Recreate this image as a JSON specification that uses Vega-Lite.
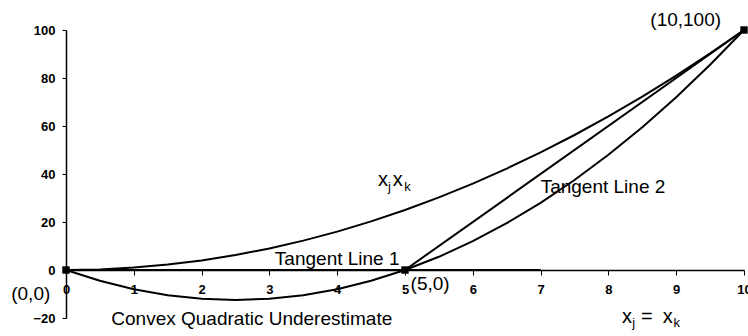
{
  "$schema": "https://vega.github.io/schema/vega-lite/v6.json",
  "width": 678,
  "height": 288,
  "autosize": {"type": "none"},
  "padding": {"left": 66, "top": 30, "right": 4, "bottom": 18},
  "background": "white",
  "config": {"view": {"stroke": null}, "font": "Liberation Sans"},
  "datasets": {
    "curves": [
      {"curve": "xjxk", "x": 0, "y": 0}, {"curve": "xjxk", "x": 0.5, "y": 0.25}, {"curve": "xjxk", "x": 1, "y": 1}, {"curve": "xjxk", "x": 1.5, "y": 2.25}, {"curve": "xjxk", "x": 2, "y": 4}, {"curve": "xjxk", "x": 2.5, "y": 6.25}, {"curve": "xjxk", "x": 3, "y": 9}, {"curve": "xjxk", "x": 3.5, "y": 12.25}, {"curve": "xjxk", "x": 4, "y": 16}, {"curve": "xjxk", "x": 4.5, "y": 20.25}, {"curve": "xjxk", "x": 5, "y": 25}, {"curve": "xjxk", "x": 5.5, "y": 30.25}, {"curve": "xjxk", "x": 6, "y": 36}, {"curve": "xjxk", "x": 6.5, "y": 42.25}, {"curve": "xjxk", "x": 7, "y": 49}, {"curve": "xjxk", "x": 7.5, "y": 56.25}, {"curve": "xjxk", "x": 8, "y": 64}, {"curve": "xjxk", "x": 8.5, "y": 72.25}, {"curve": "xjxk", "x": 9, "y": 81}, {"curve": "xjxk", "x": 9.5, "y": 90.25}, {"curve": "xjxk", "x": 10, "y": 100},
      {"curve": "under", "x": 0, "y": 0}, {"curve": "under", "x": 0.5, "y": -4.5}, {"curve": "under", "x": 1, "y": -8}, {"curve": "under", "x": 1.5, "y": -10.5}, {"curve": "under", "x": 2, "y": -12}, {"curve": "under", "x": 2.5, "y": -12.5}, {"curve": "under", "x": 3, "y": -12}, {"curve": "under", "x": 3.5, "y": -10.5}, {"curve": "under", "x": 4, "y": -8}, {"curve": "under", "x": 4.5, "y": -4.5}, {"curve": "under", "x": 5, "y": 0}, {"curve": "under", "x": 5.5, "y": 5.5}, {"curve": "under", "x": 6, "y": 12}, {"curve": "under", "x": 6.5, "y": 19.5}, {"curve": "under", "x": 7, "y": 28}, {"curve": "under", "x": 7.5, "y": 37.5}, {"curve": "under", "x": 8, "y": 48}, {"curve": "under", "x": 8.5, "y": 59.5}, {"curve": "under", "x": 9, "y": 72}, {"curve": "under", "x": 9.5, "y": 85.5}, {"curve": "under", "x": 10, "y": 100},
      {"curve": "tangent1", "x": 0, "y": 0}, {"curve": "tangent1", "x": 7, "y": 0},
      {"curve": "tangent2", "x": 5, "y": 0}, {"curve": "tangent2", "x": 10, "y": 100}
    ],
    "points": [
      {"x": 0, "y": 0}, {"x": 5, "y": 0}, {"x": 10, "y": 100}
    ],
    "labels": [
      {"x": 9.14, "y": 104, "t": "(10,100)"},
      {"x": -0.52, "y": -10, "t": "(0,0)"},
      {"x": 5.37, "y": -5.8, "t": "(5,0)"},
      {"x": 2.74, "y": -20.4, "t": "Convex Quadratic Underestimate"},
      {"x": 4.0, "y": 4.6, "t": "Tangent Line 1"},
      {"x": 7.92, "y": 34.6, "t": "Tangent Line 2"}
    ],
    "pieces": [
      {"x": 4.6, "y": 35.0, "t": "x"},
      {"x": 4.82, "y": 35.0, "t": "x"},
      {"x": 8.2, "y": -22.1, "t": "x"},
      {"x": 8.48, "y": -22.1, "t": "="},
      {"x": 8.8, "y": -22.1, "t": "x"}
    ],
    "subs": [
      {"x": 4.75, "y": 32.9, "t": "j"},
      {"x": 4.99, "y": 32.9, "t": "k"},
      {"x": 8.35, "y": -23.8, "t": "j"},
      {"x": 8.96, "y": -23.8, "t": "k"}
    ]
  },
  "encoding": {
    "x": {"field": "x", "type": "quantitative", "scale": {"domain": [0, 10], "nice": false, "zero": false}},
    "y": {"field": "y", "type": "quantitative", "scale": {"domain": [-20, 100], "nice": false, "zero": false}}
  },
  "layer": [
    {
      "data": {"name": "curves"},
      "mark": {"type": "line", "color": "black", "strokeWidth": 2, "clip": false},
      "encoding": {
        "x": {"field": "x", "type": "quantitative", "title": null,
          "axis": {"values": [0,1,2,3,4,5,6,7,8,9,10], "format": "d", "offset": -48, "domainColor": "black", "domainWidth": 1.5, "tickColor": "black", "tickSize": 5, "labelFontSize": 13, "labelFontWeight": "bold", "labelColor": "black", "labelPadding": 8, "grid": false, "labelFlush": false}},
        "y": {"field": "y", "type": "quantitative", "title": null,
          "axis": {"values": [-20,0,20,40,60,80,100], "format": "d", "domainColor": "black", "domainWidth": 1.5, "tickColor": "black", "tickSize": 4, "labelFontSize": 13, "labelFontWeight": "bold", "labelColor": "black", "labelPadding": 7, "grid": false}},
        "detail": {"field": "curve"},
        "order": {"field": "x"}
      }
    },
    {
      "data": {"name": "points"},
      "mark": {"type": "point", "shape": "square", "filled": true, "color": "black", "size": 55, "opacity": 1, "clip": false}
    },
    {
      "data": {"name": "labels"},
      "mark": {"type": "text", "fontSize": 19, "color": "black", "align": "center", "baseline": "middle"},
      "encoding": {"text": {"field": "t"}}
    },
    {
      "data": {"name": "pieces"},
      "mark": {"type": "text", "fontSize": 20, "color": "black", "align": "left", "baseline": "alphabetic"},
      "encoding": {"text": {"field": "t"}}
    },
    {
      "data": {"name": "subs"},
      "mark": {"type": "text", "fontSize": 13, "color": "black", "align": "left", "baseline": "alphabetic"},
      "encoding": {"text": {"field": "t"}}
    }
  ]
}
